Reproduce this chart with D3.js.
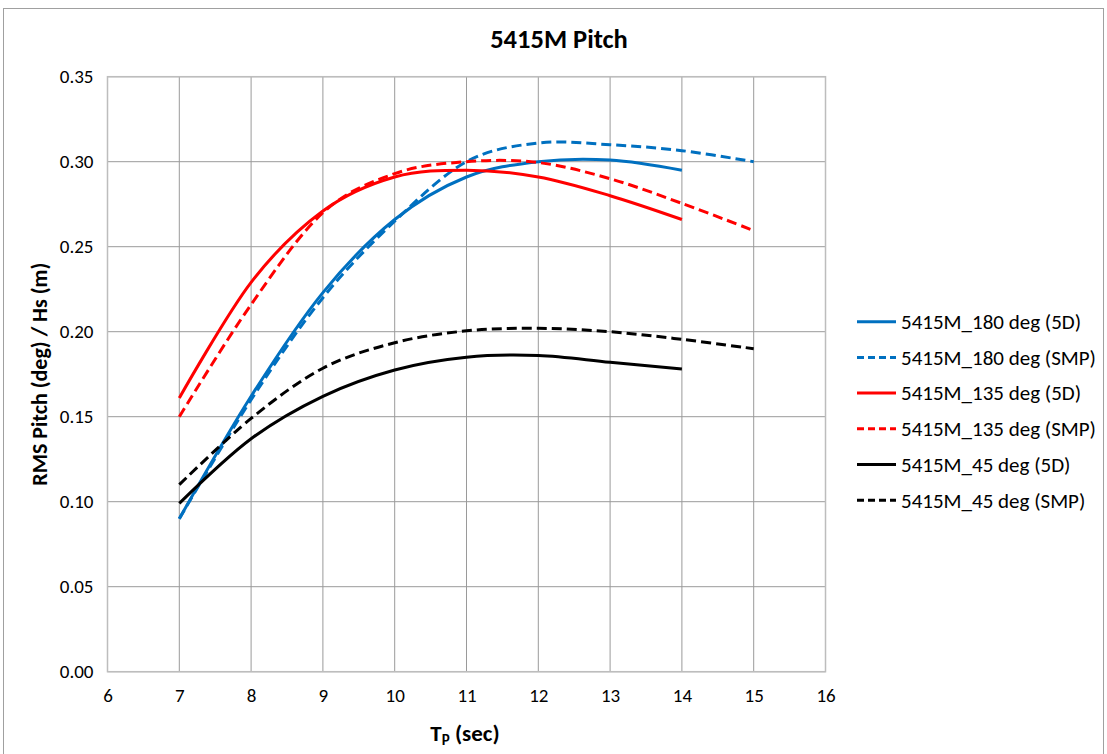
<!DOCTYPE html>
<html>
<head>
<meta charset="utf-8">
<script src="https://cdn.jsdelivr.net/npm/d3@7"></script>
<style>
  html, body { margin: 0; padding: 0; background: #fff; }
  svg { display: block; font-family: Carlito, Lato, "Open Sans", sans-serif; }
</style>
</head>
<body>
<svg id="chart" width="1107" height="754"></svg>
<script>
// Peak period values (sec)
const tp5D = [7, 8, 9, 10, 11, 12, 13, 14];
const tpSMP = [7, 8, 9, 10, 11, 12, 13, 14, 15];

// RMS pitch per unit wave height
const h180_5D  = [0.090, 0.162, 0.223, 0.266, 0.291, 0.300, 0.301, 0.295];
const h180_SMP = [0.090, 0.160, 0.220, 0.265, 0.300, 0.311, 0.310, 0.3065, 0.300];
const h135_5D  = [0.161, 0.229, 0.271, 0.291, 0.295, 0.291, 0.280, 0.266];
const h135_SMP = [0.150, 0.216, 0.270, 0.293, 0.300, 0.2995, 0.290, 0.2755, 0.2595];
const h45_5D   = [0.099, 0.137, 0.162, 0.1775, 0.185, 0.186, 0.182, 0.178];
const h45_SMP  = [0.110, 0.149, 0.1785, 0.1935, 0.2005, 0.202, 0.200, 0.1955, 0.190];

const seriesNames = [
  "5415M_180 deg (5D)", "5415M_180 deg (SMP)",
  "5415M_135 deg (5D)", "5415M_135 deg (SMP)",
  "5415M_45 deg (5D)",  "5415M_45 deg (SMP)"
];

const xTicks = [6, 7, 8, 9, 10, 11, 12, 13, 14, 15, 16];
const yTicks = [0, 0.05, 0.10, 0.15, 0.20, 0.25, 0.30, 0.35];

const series = [
  { name: seriesNames[0], x: tp5D,  y: h180_5D,  color: "#0070C0", dashed: false },
  { name: seriesNames[1], x: tpSMP, y: h180_SMP, color: "#0070C0", dashed: true },
  { name: seriesNames[2], x: tp5D,  y: h135_5D,  color: "#FF0000", dashed: false },
  { name: seriesNames[3], x: tpSMP, y: h135_SMP, color: "#FF0000", dashed: true },
  { name: seriesNames[4], x: tp5D,  y: h45_5D,   color: "#000000", dashed: false },
  { name: seriesNames[5], x: tpSMP, y: h45_SMP,  color: "#000000", dashed: true }
];

const svg = d3.select("#chart");

// outer chart frame
svg.append("rect")
  .attr("x", 3.5).attr("y", 8.5)
  .attr("width", 1100).attr("height", 760)
  .attr("fill", "none").attr("stroke", "#a0a0a0").attr("stroke-width", 1);

const plot = { left: 107.5, right: 825.5, top: 76.7, bottom: 671.7 };

const x = d3.scaleLinear().domain([6, 16]).range([plot.left, plot.right]);
const y = d3.scaleLinear().domain([0, 0.35]).range([plot.bottom, plot.top]);

// gridlines
const grid = svg.append("g");
grid.selectAll("line.v").data(xTicks).join("line")
  .attr("x1", d => x(d)).attr("x2", d => x(d))
  .attr("y1", plot.top).attr("y2", plot.bottom)
  .attr("stroke", "#9a9a9a").attr("stroke-width", 1);
grid.selectAll("line.h").data(yTicks).join("line")
  .attr("x1", plot.left).attr("x2", plot.right)
  .attr("y1", d => y(d)).attr("y2", d => y(d))
  .attr("stroke", "#9a9a9a").attr("stroke-width", 1);

// plot area border
svg.append("rect")
  .attr("x", plot.left).attr("y", plot.top)
  .attr("width", plot.right - plot.left).attr("height", plot.bottom - plot.top)
  .attr("fill", "none").attr("stroke", "#bdbdbd").attr("stroke-width", 1.5);

// axes (labels only, gridlines carry the ticks)
const tickFont = 19;
const xAxis = d3.axisBottom(x).tickValues(xTicks).tickSize(0).tickPadding(17).tickFormat(d3.format("d"));
svg.append("g").attr("transform", `translate(0,${plot.bottom})`).call(xAxis)
  .call(g => g.select(".domain").remove())
  .selectAll("text").attr("font-size", tickFont).attr("fill", "#000")
  .attr("font-family", "Carlito, Lato, sans-serif");

const yAxis = d3.axisLeft(y).tickValues(yTicks).tickSize(0).tickPadding(14).tickFormat(d3.format(".2f"));
svg.append("g").attr("transform", `translate(${plot.left},0)`).call(yAxis)
  .call(g => g.select(".domain").remove())
  .selectAll("text").attr("font-size", tickFont).attr("fill", "#000")
  .attr("font-family", "Carlito, Lato, sans-serif");

// data lines (smoothed)
const line = d3.line().curve(d3.curveCatmullRom.alpha(0));
const lines = svg.append("g");
series.forEach(s => {
  lines.append("path")
    .attr("d", line(s.x.map((v, i) => [x(v), y(s.y[i])])))
    .attr("fill", "none")
    .attr("stroke", s.color)
    .attr("stroke-width", 3)
    .attr("stroke-dasharray", s.dashed ? "10,5" : null);
});

// title
svg.append("text")
  .attr("x", 559).attr("y", 48)
  .attr("text-anchor", "middle")
  .attr("font-size", 26.5).attr("font-weight", "bold")
  .text("5415M Pitch");

// y axis title
svg.append("text")
  .attr("transform", `translate(47,${(plot.top + plot.bottom) / 2}) rotate(-90)`)
  .attr("text-anchor", "middle")
  .attr("font-size", 22).attr("font-weight", "bold")
  .text("RMS Pitch (deg) / Hs (m)");

// x axis title with subscript
const xt = svg.append("text")
  .attr("x", 465).attr("y", 741)
  .attr("text-anchor", "middle")
  .attr("font-size", 23).attr("font-weight", "bold");
xt.append("tspan").text("T");
xt.append("tspan").attr("font-size", 15).attr("dy", 4).text("P");
xt.append("tspan").attr("dy", -4).text(" (sec)");

// legend
const legend = svg.append("g").attr("transform", "translate(857,321.7)");
series.forEach((s, i) => {
  const g = legend.append("g").attr("transform", `translate(0,${i * 35.7})`);
  g.append("line")
    .attr("x1", 0).attr("x2", 39).attr("y1", 0).attr("y2", 0)
    .attr("stroke", s.color).attr("stroke-width", 3)
    .attr("stroke-dasharray", s.dashed ? "7,4" : null);
  g.append("text")
    .attr("x", 44).attr("y", 0).attr("dy", "0.35em")
    .attr("font-size", 21)
    .text(s.name);
});
</script>
</body>
</html>
